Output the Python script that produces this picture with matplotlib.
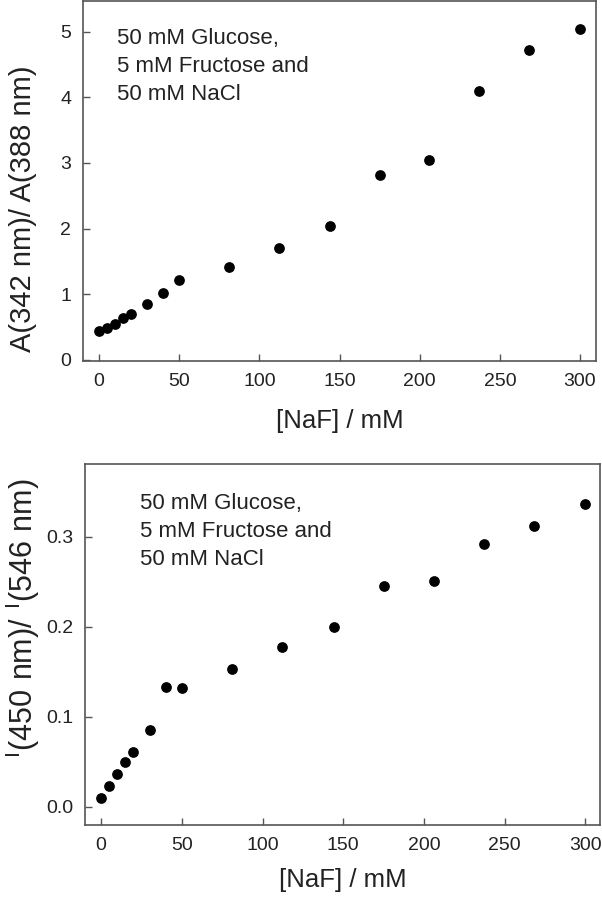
import matplotlib
matplotlib.use("Agg")
import matplotlib.pyplot as plt

plt.rcParams['font.family'] = ['Liberation Sans', 'DejaVu Sans']
plt.rcParams['mathtext.fontset'] = 'custom'
plt.rcParams['mathtext.rm'] = 'Liberation Sans'

naf = [0, 5, 10, 15, 20, 30, 40, 50, 81, 112, 144, 175, 206, 237, 268, 300]
abs_ratio = [0.44, 0.48, 0.55, 0.63, 0.69, 0.85, 1.02, 1.21, 1.42, 1.70,
             2.04, 2.82, 3.04, 4.10, 4.72, 5.05]
fl_ratio = [0.010, 0.023, 0.036, 0.050, 0.061, 0.085, 0.133, 0.132, 0.153,
            0.178, 0.200, 0.245, 0.251, 0.292, 0.312, 0.336]

x_ticks = [0, 50, 100, 150, 200, 250, 300]
top_yticks = [0, 1, 2, 3, 4, 5]
bot_yticks = [0.0, 0.1, 0.2, 0.3]
note = "50 mM Glucose,\n5 mM Fructose and\n50 mM NaCl"

spine_c = '#555555'
text_c = '#222222'

fig = plt.figure(figsize=(6.02, 9.0), dpi=100)
ax1 = fig.add_axes([83/602, 1 - 361/900, (596-83)/602, (361-1)/900])
ax2 = fig.add_axes([85/602, 1 - 825/900, (600-85)/602, (825-464)/900])

def style(ax, lpad):
    for s in ax.spines.values():
        s.set_color(spine_c)
        s.set_linewidth(1.2)
    ax.tick_params(direction='in', length=5, width=1, color=spine_c,
                   labelsize=14, labelcolor=text_c, pad=8.5,
                   top=False, right=False)
    ax.set_xticks(x_ticks)
    ax.set_xlabel('[NaF] / mM', fontsize=18.5, color=text_c, labelpad=lpad)

ax1.scatter(naf, abs_ratio, s=45, color='black', zorder=3)
style(ax1, 14)
ax1.set_xlim(-10, 310)
ax1.set_ylim(-0.02, 5.47)
ax1.set_yticks(top_yticks)
ax1.set_yticklabels([str(v) for v in top_yticks])
ax1.set_ylabel('A(342 nm)/ A(388 nm)', fontsize=21, color=text_c)
ax1.yaxis.set_label_coords(-0.09, 0.423)
ax1.text(0.066, 0.925, note, transform=ax1.transAxes, fontsize=16,
         color=text_c, va='top', ha='left', linespacing=1.45)

ax2.scatter(naf, fl_ratio, s=45, color='black', zorder=3)
style(ax2, 10)
ax2.set_xlim(-10, 309)
ax2.set_ylim(-0.0203, 0.3808)
ax2.set_yticks(bot_yticks)
ax2.set_yticklabels(['%.1f' % v for v in bot_yticks])
ax2.set_ylabel(r'$\mathregular{^{I}(450\ nm)/\ ^{I}(546\ nm)}$', fontsize=22,
               color=text_c)
ax2.yaxis.set_label_coords(-0.083, 0.573)
ax2.text(0.107, 0.92, note, transform=ax2.transAxes, fontsize=16,
         color=text_c, va='top', ha='left', linespacing=1.45)

fig.savefig('out.png', dpi=100)
